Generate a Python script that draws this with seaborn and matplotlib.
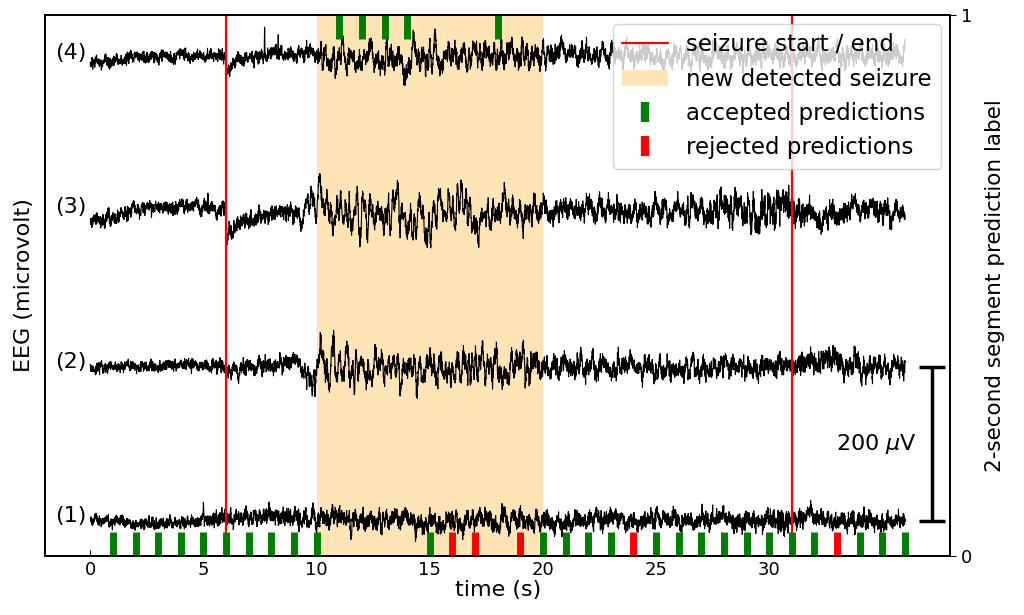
import numpy as np
import pandas as pd
import matplotlib
matplotlib.use('Agg')
import matplotlib.pyplot as plt
from matplotlib.lines import Line2D
from matplotlib.patches import Patch
import seaborn as sns

# channel layout (microvolt offsets) and sampling
channels = ['(1)', '(2)', '(3)', '(4)']
offsets = [0, 200, 400, 600]
fs = 256
duration = 36

# per-second baseline drift (uV), t = 0..36
base_1 = [2, 0, -4, -3, -2, 0, 4, 6, 7, 5, 6, 4, 0, -2, 0, 0, -2, 2, 0,
          2, -2, 0, 2, 3, -2, 2, 4, 2, 3, 0, -2, 3, 6, 0, 2, 0, 2]
base_2 = [-2, 0, 2, 2, 3, 3, -2, 0, 2, 3, 4, 4, 3, 0, 0, 2, 0, 1, 0,
          2, 0, 1, 2, 0, 1, 0, -2, 0, 2, 0, 2, 3, 5, 3, 2, 1, 2]
base_3 = [-12, -8, 6, 7, 6, 8, 0, -2, 0, 2, 5, 4, -3, 0, -5, 2, 0, -5, 3,
          -2, 3, 2, 4, 2, 0, 3, 2, 4, 3, 5, 3, 4, -3, 0, 2, 1, 2]
base_4 = [-5, -3, 2, 2, 4, 3, 2, 5, 7, 6, 8, 3, -2, 2, -3, 2, 8, 3, 5,
          3, 5, 4, 3, 5, 4, 3, 5, 4, 3, 4, 5, 3, 4, 3, 4, 3, 4]

# per-second amplitude of fast activity (uV std)
fast_1 = [3] * 6 + [4.5] * 23 + [6] * 3 + [4.5] * 5
fast_2 = [3] * 6 + [4] * 4 + [5] * 10 + [5] * 12 + [6] * 2 + [5] * 3
fast_3 = [3.5] * 6 + [4] * 4 + [5] * 10 + [5] * 8 + [8] * 4 + [5] * 5
fast_4 = [3] * 6 + [3.5] * 4 + [5] * 10 + [4.5] * 17

# per-second amplitude of slow waves (uV std)
slow_1 = [2] * 6 + [3] * 4 + [6] * 10 + [4] * 17
slow_2 = [2] * 6 + [4] * 4 + [15] * 2 + [12] * 8 + [6] * 17
slow_3 = [3] * 6 + [4] * 4 + [15] * 10 + [7] * 17
slow_4 = [2] * 6 + [3] * 4 + [10] * 10 + [6] * 17

bases = [base_1, base_2, base_3, base_4]
fasts = [fast_1, fast_2, fast_3, fast_4]
slows = [slow_1, slow_2, slow_3, slow_4]

# isolated spikes: (channel index, time s, height uV)
spikes = [(3, 7.7, 45), (3, 8.3, 25), (0, 5.0, 22), (2, 5.2, 18)]
# dips right after seizure onset: (channel index, time s, depth uV)
dips = [(3, 6.0, -18), (2, 6.0, -32), (1, 6.0, -6)]

# seizure annotations
seizure_marks = [6, 31]
detected_start, detected_end = 10, 20

# 2-second segment predictions (centre time, label, accepted?)
pred_time = [1, 2, 3, 4, 5, 6, 7, 8, 9, 10, 11, 12, 13, 14, 15, 16, 17, 18,
             19, 20, 21, 22, 23, 24, 25, 26, 27, 28, 29, 30, 31, 32, 33, 34, 35, 36]
pred_label = [0, 0, 0, 0, 0, 0, 0, 0, 0, 0, 1, 1, 1, 1, 0, 0, 0, 1,
              0, 0, 0, 0, 0, 0, 0, 0, 0, 0, 0, 0, 0, 0, 0, 0, 0, 0]
pred_accepted = [1, 1, 1, 1, 1, 1, 1, 1, 1, 1, 1, 1, 1, 1, 1, 0, 0, 1,
                 0, 1, 1, 1, 1, 0, 1, 1, 1, 1, 1, 1, 1, 1, 0, 1, 1, 1]

# build traces: read envelopes + noise texture
rng = np.random.default_rng(7)
t = np.arange(0, duration * fs + 1) / fs
sec = np.arange(duration + 1)


def smooth_noise(n, width):
    w = np.hanning(width + 2)
    x = np.convolve(rng.standard_normal(n + width), w / w.sum(), mode='same')[:n]
    return x / x.std()


traces = []
for i in range(4):
    fast = smooth_noise(len(t), 3)
    slow = smooth_noise(len(t), 40)
    sig = (np.interp(t, sec, bases[i])
           + np.interp(t, sec, fasts[i]) * fast
           + np.interp(t, sec, slows[i]) * slow)
    for ch, ts, h in spikes:
        if ch == i:
            sig += h * np.exp(-((t - ts) * fs / 3.0) ** 2)
    for ch, ts, d in dips:
        if ch == i:
            after = t >= ts
            sig[after] += d * np.exp(-(t[after] - ts) / 0.7)
    traces.append(pd.DataFrame({'time': t, 'eeg': sig + offsets[i]}))

sns.set_style('ticks')
plt.rcParams['font.family'] = ['DejaVu Sans']
plt.rcParams.update({'text.color': 'black', 'axes.labelcolor': 'black',
                     'xtick.color': 'black', 'ytick.color': 'black'})

fig = plt.figure(figsize=(10.24, 6.15), dpi=100)
ax = fig.add_axes([0.044, 0.096, 0.884, 0.880])

ax.axvspan(detected_start, detected_end, color='moccasin', lw=0, zorder=0)
for df in traces:
    sns.lineplot(data=df, x='time', y='eeg', ax=ax, color='black', lw=0.8,
                 estimator=None, zorder=2)
for m in seizure_marks:
    ax.axvline(m, color='red', lw=1.6, zorder=3)

for name, off in zip(channels, offsets):
    ax.text(-0.15, off + 7, name, ha='right', va='center', fontsize=16)

# 200 uV scale bar
ax.errorbar(37.2, 100, yerr=100, fmt='none', ecolor='black', elinewidth=2.5,
            capsize=9.5, capthick=2.5)
ax.text(36.5, 100, r'200 $\mu$V', ha='right', va='center', fontsize=16)

ax.set_xlim(-2, 38)
ax.set_ylim(-45, 657)
ax.set_xticks([0, 5, 10, 15, 20, 25, 30])
ax.set_yticks([])
ax.tick_params(axis='x', direction='in', labelsize=13, length=4)
ax.set_xlabel('time (s)', fontsize=16, labelpad=1)
ax.set_ylabel('EEG (microvolt)', fontsize=16, labelpad=8)

ax2 = ax.twinx()
ax2.set_ylim(0, 1)
for lab, acc, ts in zip(pred_label, pred_accepted, pred_time):
    col = 'green' if acc else 'red'
    ax2.vlines(ts, lab - 0.044, lab + 0.044, color=col, lw=5)
ax2.set_yticks([0, 1])
ax2.tick_params(axis='y', direction='out', labelsize=13, length=4)
ax2.set_ylabel('2-second segment prediction label', fontsize=15.5, labelpad=9)

for a in (ax, ax2):
    for s in a.spines.values():
        s.set_visible(True)
        s.set_linewidth(1.3)
        s.set_color('black')

handles = [
    Line2D([], [], color='red', lw=1.6),
    Patch(facecolor='moccasin', edgecolor='none'),
    Line2D([], [], color='green', marker='|', ls='none', ms=14, mew=6),
    Line2D([], [], color='red', marker='|', ls='none', ms=14, mew=6),
]
labels = ['seizure start / end', 'new detected seizure',
          'accepted predictions', 'rejected predictions']
ax2.legend(handles, labels, loc='upper right', fontsize=16.5, framealpha=0.8,
           borderaxespad=0.4)

fig.savefig('out.png', dpi=100)
